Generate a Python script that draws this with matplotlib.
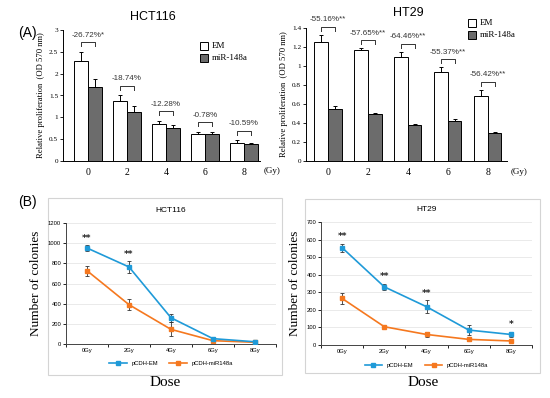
import matplotlib
matplotlib.use("Agg")
import matplotlib.pyplot as plt
import numpy as np
from matplotlib.patches import Rectangle
from matplotlib.lines import Line2D

# ── Data ────────────────────────────────────────────────
doses = ["0", "2", "4", "6", "8"]
dose_labels = ["0Gy", "2Gy", "4Gy", "6Gy", "8Gy"]

# (A) relative proliferation, OD 570 nm
hct_em = [2.30, 1.38, 0.85, 0.62, 0.42]
hct_em_err = [0.20, 0.12, 0.07, 0.05, 0.05]
hct_mir = [1.69, 1.12, 0.75, 0.61, 0.38]
hct_mir_err = [0.19, 0.15, 0.07, 0.06, 0.03]
hct_pct = ["-26.72%*", "-18.74%", "-12.28%", "-0.78%", "-10.59%"]

ht_em = [1.25, 1.17, 1.09, 0.94, 0.68]
ht_em_err = [0.08, 0.02, 0.06, 0.05, 0.07]
ht_mir = [0.55, 0.49, 0.38, 0.42, 0.29]
ht_mir_err = [0.03, 0.01, 0.005, 0.02, 0.02]
ht_pct = ["-55.16%**", "-57.65%**", "-64.46%**", "-55.37%**", "-56.42%**"]

# (B) number of colonies
hct_col_em = [952, 764, 260, 53, 22]
hct_col_em_err = [25, 55, 40, 10, 8]
hct_col_mir = [727, 390, 145, 33, 17]
hct_col_mir_err = [50, 55, 70, 8, 5]
hct_col_sig = ["**", "**", "", "", ""]

ht_col_em = [554, 331, 218, 85, 60]
ht_col_em_err = [22, 19, 36, 28, 15]
ht_col_mir = [265, 104, 60, 32, 23]
ht_col_mir_err = [31, 5, 12, 8, 5]
ht_col_sig = ["**", "**", "**", "", "*"]

SERIF = ["Liberation Serif", "DejaVu Serif"]
SANS = ["Liberation Sans", "DejaVu Sans"]
BLUE = "#1f9ad8"
ORANGE = "#f5781f"
GRAY = "#6c6c6c"

W, H = 550, 398
fig = plt.figure(figsize=(W / 100, H / 100), dpi=100)


def px_axes(l, t, r, b):
    return fig.add_axes([l / W, 1 - b / H, (r - l) / W, (b - t) / H])


def bar_panel(ax, em, em_err, mir, mir_err, pct, ymax, ystep, width,
              xlim, br_off, txt_off):
    x = np.arange(len(doses))
    ax.bar(x - width / 2, em, width, color="white", edgecolor="black", linewidth=0.7,
           yerr=[np.zeros(len(em)), em_err], error_kw=dict(lw=0.7, capsize=1.5, capthick=0.7))
    ax.bar(x + width / 2, mir, width, color=GRAY, edgecolor="black", linewidth=0.7,
           yerr=[np.zeros(len(mir)), mir_err], error_kw=dict(lw=0.7, capsize=1.5, capthick=0.7))
    for i in range(len(doses)):
        top = max(em[i] + em_err[i], mir[i] + mir_err[i])
        h = top + br_off * ymax
        x0, x1 = x[i] - width / 2, x[i] + width / 2
        ax.plot([x0, x0, x1, x1], [h - 0.03 * ymax, h, h, h - 0.03 * ymax],
                color="#333333", lw=0.7, clip_on=False)
        ax.text(x[i], h + txt_off * ymax, pct[i], ha="center", va="bottom",
                fontsize=5.8, color="#333333", family=SANS)
    ax.set_xlim(*xlim)
    ax.set_ylim(0, ymax)
    ax.set_xticks(x)
    ax.set_xticklabels(doses, family=SERIF, fontsize=7)
    yt = np.round(np.arange(0, ymax + 1e-9, ystep), 2)
    ax.set_yticks(yt)
    ax.set_yticklabels([f"{v:g}" for v in yt], family=SERIF, fontsize=5.2)
    ax.tick_params(axis="x", length=0, pad=5)
    ax.tick_params(axis="y", length=2, width=0.6, pad=1.5)
    for s in ["top", "right"]:
        ax.spines[s].set_visible(False)
    for s in ["left", "bottom"]:
        ax.spines[s].set_linewidth(0.7)
    ax.set_ylabel("Relative proliferation  (OD 570 nm)", family=SERIF, fontsize=6.2, labelpad=3)
    ax.text(1.02, -0.08, "(Gy)", transform=ax.transAxes, family=SERIF, fontsize=6.5,
            va="center", ha="left")
    ax.patch.set_alpha(0)


def bar_legend(x0, y0):
    for k, (lab, col) in enumerate([("EM", "white"), ("miR-148a", GRAY)]):
        y = y0 + k * 12
        fig.patches.append(Rectangle((x0 / W, 1 - (y + 4) / H), 8 / W, 8 / H,
                                     transform=fig.transFigure, facecolor=col,
                                     edgecolor="black", lw=0.7))
        fig.text((x0 + 12) / W, 1 - y / H, lab, family=SERIF, fontsize=6.5, va="center")


def line_panel(ax, em, em_err, mir, mir_err, sig, ymax, ystep, title):
    x = np.arange(len(dose_labels))
    for yv in np.arange(ystep, ymax + 1, ystep):
        ax.axhline(yv, color="#e6e6e6", lw=0.6, zorder=0)
    ax.errorbar(x, em, yerr=em_err, color=BLUE, lw=1.2, marker="s", ms=2.5,
                ecolor="#333333", elinewidth=0.6, capsize=1.3, capthick=0.6, zorder=3)
    ax.errorbar(x, mir, yerr=mir_err, color=ORANGE, lw=1.2, marker="s", ms=2.5,
                ecolor="#333333", elinewidth=0.6, capsize=1.3, capthick=0.6, zorder=2)
    for i, s in enumerate(sig):
        if s:
            ax.text(x[i], em[i] + em_err[i] + 0.02 * ymax, s, ha="center", va="bottom",
                    fontsize=6.5, fontweight="bold", color="#222222")
    ax.set_xlim(-0.5, len(x) - 0.5)
    ax.set_ylim(0, ymax)
    ax.set_xticks(x)
    ax.set_xticklabels(dose_labels, fontsize=4.2, family=SANS)
    ax.set_xticks(np.arange(-0.5, len(x)), minor=True)
    ax.tick_params(axis="x", which="major", length=0, pad=3)
    ax.tick_params(axis="x", which="minor", length=2, width=0.6)
    ax.set_yticks(np.arange(0, ymax + 1, ystep))
    ax.set_yticklabels([str(int(v)) for v in np.arange(0, ymax + 1, ystep)],
                       fontsize=4.2, family=SANS)
    ax.tick_params(axis="y", length=2, width=0.6, pad=1.5)
    for s in ["top", "right"]:
        ax.spines[s].set_visible(False)
    for s in ["left", "bottom"]:
        ax.spines[s].set_linewidth(0.7)
        ax.spines[s].set_color("#444444")
    ax.set_ylabel("Number of colonies", family=SERIF, fontsize=9.5, labelpad=4)
    ax.set_title(title, family=SANS, fontsize=6, pad=8)
    handles = [Line2D([], [], color=BLUE, lw=1.2, marker="s", ms=2.5),
               Line2D([], [], color=ORANGE, lw=1.2, marker="s", ms=2.5)]
    ax.legend(handles, ["pCDH-EM", "pCDH-miR148a"], loc="upper center",
              bbox_to_anchor=(0.5, -0.1), ncol=2, frameon=False,
              handlelength=3, columnspacing=2, prop={"family": SANS, "size": 4.2})
    ax.patch.set_alpha(0)


# ── (B) frames first so they sit behind the axes ────────
for (l, t, r, b) in [(48, 198, 282, 375), (305, 199, 540, 373)]:
    fig.patches.append(Rectangle((l / W, 1 - b / H), (r - l) / W, (b - t) / H,
                                 transform=fig.transFigure, facecolor="white",
                                 edgecolor="#d4d4d4", lw=0.8, zorder=-5))

# ── (A) bar charts ──────────────────────────────────────
ax1 = px_axes(63, 30, 260, 161)
bar_panel(ax1, hct_em, hct_em_err, hct_mir, hct_mir_err, hct_pct, 3, 0.5, 0.36,
          (-0.64, 4.41), 0.075, 0.025)
ax2 = px_axes(306, 28, 507, 161)
bar_panel(ax2, ht_em, ht_em_err, ht_mir, ht_mir_err, ht_pct, 1.4, 0.2, 0.34,
          (-0.55, 4.48), 0.06, 0.025)
fig.text(153 / W, 1 - 17 / H, "HCT116", family=SANS, fontsize=9, ha="center", va="center")
fig.text(408 / W, 1 - 13 / H, "HT29", family=SANS, fontsize=9, ha="center", va="center")
bar_legend(200, 46)
bar_legend(468, 23)

# ── (B) colony formation ────────────────────────────────
ax3 = px_axes(66, 223, 276, 344)
line_panel(ax3, hct_col_em, hct_col_em_err, hct_col_mir, hct_col_mir_err,
           hct_col_sig, 1200, 200, "HCT116")
ax4 = px_axes(321, 222, 532, 345)
line_panel(ax4, ht_col_em, ht_col_em_err, ht_col_mir, ht_col_mir_err,
           ht_col_sig, 700, 100, "HT29")
fig.text(165 / W, 1 - 383 / H, "Dose", family=SERIF, fontsize=11, ha="center", va="center")
fig.text(423 / W, 1 - 382 / H, "Dose", family=SERIF, fontsize=11, ha="center", va="center")

fig.text(27 / W, 1 - 33 / H, "(A)", family=SANS, fontsize=10, ha="center", va="center")
fig.text(27 / W, 1 - 202 / H, "(B)", family=SANS, fontsize=10, ha="center", va="center")

fig.savefig("out.png", dpi=100)
